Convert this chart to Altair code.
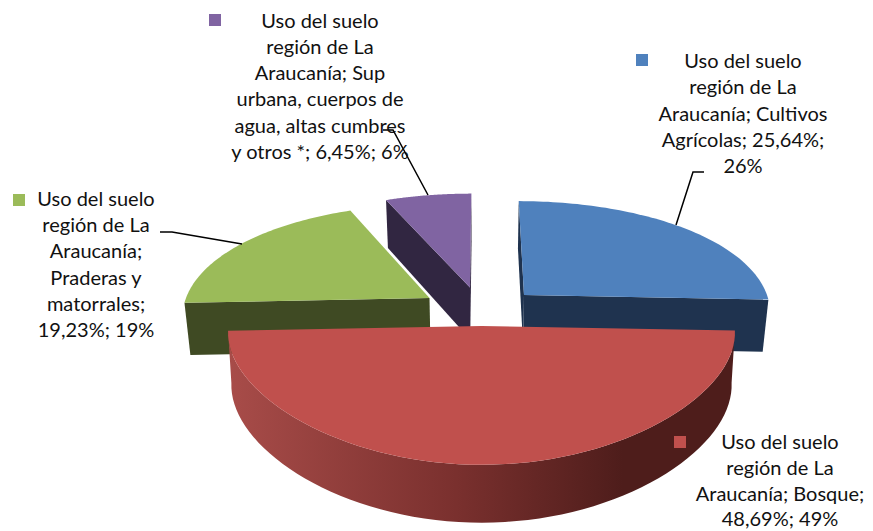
import math
import altair as alt
import pandas as pd

# ---- chart values ----
names = ["Cultivos Agrícolas", "Bosque", "Praderas y matorrales", "Sup urbana, cuerpos de agua, altas cumbres y otros *"]
shares = [25.64, 48.69, 19.23, 6.45]
top_colors = ["#4F81BD", "#C0504D", "#9BBB59", "#8064A2"]
wall_colors = ["#1F334F", "#7A302E", "#3F4A23", "#312641"]
label_lines = [
    ["Uso del suelo", "región de La", "Araucanía; Cultivos", "Agrícolas; 25,64%;", "26%"],
    ["Uso del suelo", "región de La", "Araucanía; Bosque;", "48,69%; 49%"],
    ["Uso del suelo", "región de La", "Araucanía;", "Praderas y", "matorrales;", "19,23%; 19%"],
    ["Uso del suelo", "región de La", "Araucanía; Sup", "urbana, cuerpos de", "agua, altas cumbres", "y otros *; 6,45%; 6%"],
]

# ---- layout of the tilted, exploded pie ----
W, H = 857, 522
XS = alt.Scale(domain=[8, 8 + W], nice=False, zero=False)
YS = alt.Scale(domain=[8 + H, 8], nice=False, zero=False)
XC = 481
A, KY = 112, 0.193
KX_BY_SLICE = [0.14, 0.06, 0.14, 0.14]
DEPTH = 52
SHRINK_BY_SLICE = [0.98, 0.987, 0.98, 0.98]
slice_apex = [(524, 295, 243), (481.5, 326, 253), (429.5, 298, 243.5), (470, 287.5, 244)]
label_pos = [(743, 62, 26.3), (780, 443, 25.8), (96, 200, 26.2), (320, 21.5, 26.3)]
square_pos = [(642, 60), (680, 442), (19, 200), (215, 20)]
leaders = [
    [(676, 225), (693, 172), (704, 172)],
    [(242, 244), (172, 232), (160, 232)],
    [(428, 195), (393, 130), (383, 130)],
]


def top_pt(i, th):
    ax, ay, R = slice_apex[i]
    u, v = math.sin(th), -math.cos(th)
    return XC + (ax - XC + R * u) / (1 - KX_BY_SLICE[i] * v), ay + A * v / (1 - KY * v)


def bottom_pt(i, th):
    x, y = top_pt(i, th)
    v = -math.cos(th)
    return XC + (x - XC) * SHRINK_BY_SLICE[i], y + DEPTH / math.sqrt(1 - KY * v)


def apex_pts(i):
    ax, ay, R = slice_apex[i]
    return (ax, ay), (XC + (ax - XC) * SHRINK_BY_SLICE[i], ay + DEPTH)


def poly(points, **mark):
    df = pd.DataFrame(points, columns=["x", "y"])
    df["o"] = range(len(df))
    return alt.Chart(df).mark_line(strokeOpacity=0, interpolate="linear", **mark).encode(
        x=alt.X("x:Q", scale=XS, axis=None),
        y=alt.Y("y:Q", scale=YS, axis=None),
        order="o:Q",
    )


total = sum(shares)
starts = []
acc = 0.0
for s in shares:
    starts.append(acc)
    acc += s
ang = [(a / total * 2 * math.pi, (a + s) / total * 2 * math.pi) for a, s in zip(starts, shares)]


def arc(i, f, a, b, n=70):
    return [f(i, a + (b - a) * k / n) for k in range(n + 1)]


def radial_wall(i, th):
    t, b = apex_pts(i)
    return [t, top_pt(i, th), bottom_pt(i, th), b]


layers = []
# purple slice
a, b = ang[3]
layers.append(poly(radial_wall(3, a), fill=wall_colors[3]))
layers.append(poly(radial_wall(3, b), fill=wall_colors[3]))
layers.append(poly([apex_pts(3)[0]] + arc(3, top_pt, a, b), fill=top_colors[3]))
# green slice
a, b = ang[2]
layers.append(poly(radial_wall(2, a), fill=wall_colors[2]))
layers.append(poly([apex_pts(2)[0]] + arc(2, top_pt, a, b), fill=top_colors[2]))
# blue slice
a, b = ang[0]
layers.append(poly(radial_wall(0, a), fill=wall_colors[0]))
layers.append(poly(radial_wall(0, b), fill=wall_colors[0]))
layers.append(poly([apex_pts(0)[0]] + arc(0, top_pt, a, b), fill=top_colors[0]))
# red slice: shaded outer wall, then its face
a, b = ang[1]
grad = alt.LinearGradient(
    gradient="linear", x1=1, y1=0, x2=0, y2=0,
    stops=[
        alt.GradientStop(offset=0, color="#4E1D1B"),
        alt.GradientStop(offset=0.22, color="#4E1D1B"),
        alt.GradientStop(offset=0.55, color="#7A302E"),
        alt.GradientStop(offset=1, color="#A84C49"),
    ],
)
layers.append(poly(arc(1, top_pt, a, b) + arc(1, bottom_pt, a, b)[::-1], fill=grad))
layers.append(poly([apex_pts(1)[0]] + arc(1, top_pt, a, b), fill=top_colors[1]))

# leader lines
for seg in leaders:
    df = pd.DataFrame(seg, columns=["x", "y"])
    df["o"] = range(len(df))
    layers.append(
        alt.Chart(df).mark_line(color="#000000", strokeWidth=1.5).encode(
            x=alt.X("x:Q", scale=XS, axis=None), y=alt.Y("y:Q", scale=YS, axis=None), order="o:Q"
        )
    )

# legend keys
for (x, y), c in zip(square_pos, top_colors):
    df = pd.DataFrame({"x": [x], "y": [y]})
    layers.append(
        alt.Chart(df).mark_square(size=144, color=c, opacity=1).encode(
            x=alt.X("x:Q", scale=XS, axis=None), y=alt.Y("y:Q", scale=YS, axis=None)
        )
    )

# labels
rows = []
for lines, (x, y, step) in zip(label_lines, label_pos):
    for k, t in enumerate(lines):
        rows.append({"x": x, "y": y + k * step, "t": t})
layers.append(
    alt.Chart(pd.DataFrame(rows)).mark_text(font="Lato", fontSize=20, color="#111111", align="center", baseline="middle").encode(
        x=alt.X("x:Q", scale=XS, axis=None), y=alt.Y("y:Q", scale=YS, axis=None), text="t:N"
    )
)

chart = alt.layer(*layers).properties(width=W, height=H, padding=0, autosize=alt.AutoSizeParams(type="none")).configure_view(stroke=None)
chart.save("out.html", embed_options={"renderer": "svg", "actions": False})
